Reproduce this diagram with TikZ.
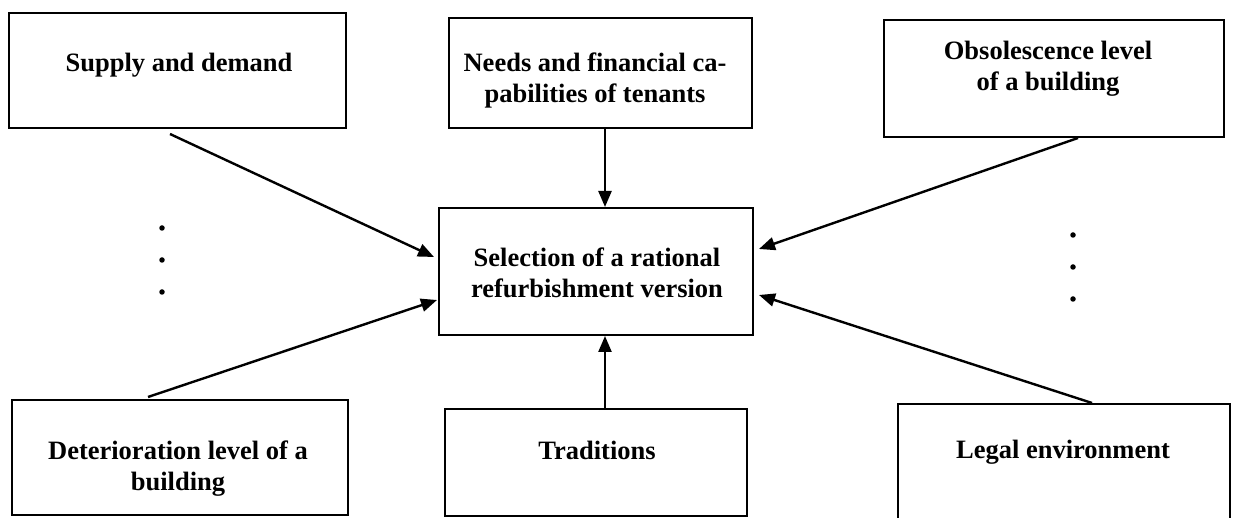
\documentclass[tikz,border=0pt]{standalone}
\usepackage{fontspec}
\setmainfont{Liberation Serif}
\usetikzlibrary{arrows.meta}
\begin{document}
\begin{tikzpicture}[x=1pt,y=1pt,
  box/.style={draw,line width=2pt,rectangle,inner sep=0pt},
  lbl/.style={align=center,font=\fontsize{26.5}{31}\selectfont\bfseries,inner sep=0pt},
  arr/.style={line width=2.4pt,-{Triangle[length=16pt,width=13pt]}},
  dot/.style={circle,fill,inner sep=0pt,minimum size=5.5pt}]
\useasboundingbox (0,0) rectangle (1235,518);
\begin{scope}
\clip (0,0) rectangle (1235,518);
% boxes
\node[box,minimum width=337pt,minimum height=115pt] (sup) at (177.5,447.5) {};
\node[box,minimum width=303pt,minimum height=110pt] (need) at (600.5,445) {};
\node[box,minimum width=340pt,minimum height=117pt] (obs) at (1054,439.5) {};
\node[box,minimum width=314pt,minimum height=127pt] (ctr) at (596,246.5) {};
\node[box,minimum width=336pt,minimum height=115pt] (det) at (180,60.5) {};
\node[box,minimum width=302pt,minimum height=107pt] (tra) at (596,55.5) {};
\node[box,minimum width=332pt,minimum height=118pt] (leg) at (1064,55) {};
\end{scope}
% texts
\node[lbl] (tsup) at (179,453) {Supply and demand};
\node[lbl] (tneed) at (595,437) {Needs and financial ca-\\pabilities of tenants};
\node[lbl] (tobs) at (1048,449.5) {Obsolescence level\\of a building};
\node[lbl] (tctr) at (597,245.5) {Selection of a rational\\refurbishment version};
\node[lbl] (tdet) at (178,49) {Deterioration level of a\\building};
\node[lbl] (ttra) at (597,68) {Traditions};
\node[lbl] (tleg) at (1063,66) {Legal environment};
% connectors
\draw[arr] ([shift={(-7.5,-5)}]sup.south) -- ([shift={(-4,14.5)}]ctr.west);
\draw[arr] ([shift={(4.5,0)}]need.south) -- ([shift={(9,0)}]ctr.north);
\draw[arr] ([shift={(24,0)}]obs.south) -- ([shift={(5,22.5)}]ctr.east);
\draw[arr] ([shift={(-32,2)}]det.north) -- ([shift={(-1,-28.5)}]ctr.west);
\draw[arr] ([shift={(9,0)}]tra.north) -- ([shift={(9,0)}]ctr.south);
\draw[arr] ([shift={(28,0)}]leg.north) -- ([shift={(5,-23.5)}]ctr.east);
% dots
\node[dot] (l1) at (162,290) {};
\node[dot] (l2) at (162,258) {};
\node[dot] (l3) at (162,226) {};
\node[dot] (r1) at (1073,283) {};
\node[dot] (r2) at (1073,251) {};
\node[dot] (r3) at (1073,219) {};
\end{tikzpicture}
\end{document}
